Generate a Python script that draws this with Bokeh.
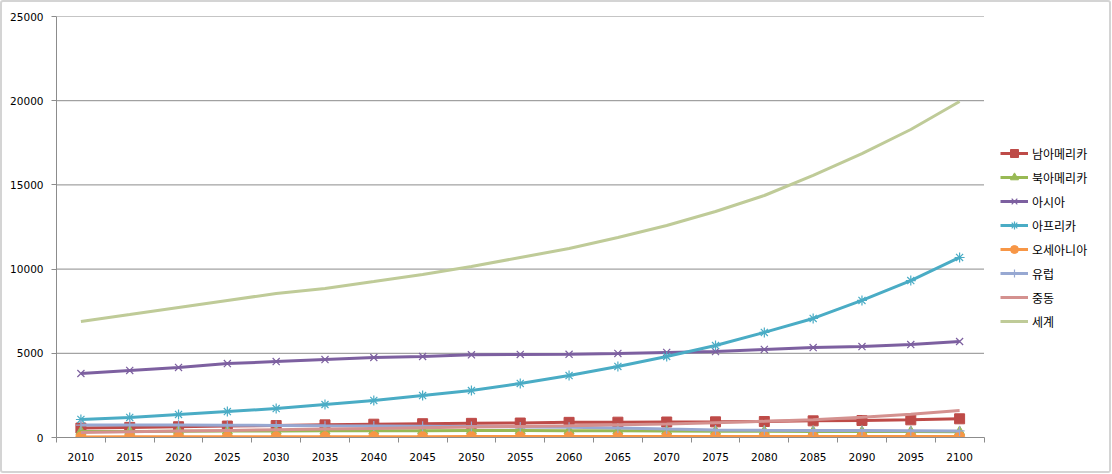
from bokeh.plotting import figure
from bokeh.models import FixedTicker, Range1d, Legend, LegendItem
from bokeh.embed import file_html
from bokeh.resources import INLINE

years = [2010, 2015, 2020, 2025, 2030, 2035, 2040, 2045, 2050, 2055,
         2060, 2065, 2070, 2075, 2080, 2085, 2090, 2095, 2100]

south_america = [560, 600, 640, 680, 710, 750, 790, 820, 840, 860,
                 900, 910, 920, 930, 950, 990, 1010, 1050, 1110]
north_america = [350, 360, 370, 380, 390, 395, 400, 405, 410, 410,
                 405, 395, 385, 375, 370, 360, 355, 350, 345]
asia = [3800, 3980, 4160, 4390, 4510, 4630, 4750, 4810, 4910, 4930,
        4940, 4990, 5050, 5100, 5230, 5340, 5400, 5520, 5700]
africa = [1070, 1190, 1370, 1540, 1720, 1960, 2200, 2490, 2790, 3210,
          3680, 4220, 4810, 5460, 6240, 7070, 8140, 9320, 10690]
oceania = [37, 39, 41, 43, 45, 47, 49, 50, 52, 53,
           54, 55, 56, 57, 58, 58, 59, 60, 60]
europe = [740, 740, 735, 730, 720, 700, 690, 670, 650, 630,
          610, 560, 500, 450, 430, 420, 410, 400, 390]
middle_east = [300, 340, 380, 420, 460, 500, 540, 580, 620, 660,
               700, 750, 800, 880, 960, 1060, 1200, 1380, 1600]
world = [6890, 7300, 7720, 8140, 8550, 8850, 9260, 9680, 10150, 10690,
         11220, 11880, 12590, 13420, 14370, 15560, 16860, 18290, 19950]

names = ["남아메리카", "북아메리카", "아시아", "아프리카", "오세아니아", "유럽", "중동", "세계"]
series = [south_america, north_america, asia, africa, oceania, europe, middle_east, world]
line_colors = ["#BE4B48", "#98B954", "#7D60A0", "#4AACC5", "#F79646", "#97A8D2", "#D4918F", "#BFCB98"]
markers = ["square", "triangle", "x", "asterisk", "circle", "cross", None, None]
y_ticks = [0, 5000, 10000, 15000, 20000, 25000]

# layout (pixels)
B = 2                      # css border width
W, H = 1111, 473
inner_w, inner_h = W - 2 * B, H - 2 * B
frame_left, frame_top = 56 - B, 16 - B
bottom_border = 38
data_px = 924              # plot-area width in pixels
x0 = years[0] - 2.5
x1 = years[-1] + 2.5
px_per = data_px / (x1 - x0)
x_end = x0 + (inner_w - frame_left) / px_per

p = figure(width=W, height=H, output_backend="svg", toolbar_location=None,
           x_range=Range1d(x0, x_end), y_range=Range1d(0, 25000),
           min_border_left=frame_left, min_border_right=0, min_border_top=frame_top,
           min_border_bottom=bottom_border)
p.styles = {"border": f"{B}px solid #D4D4D4", "box-sizing": "border-box", "border-radius": "3px"}
p.outline_line_color = None
p.xgrid.grid_line_color = None
p.ygrid.grid_line_color = None

# horizontal gridlines limited to the plot area
p.segment(x0=[x0] * (len(y_ticks) - 1), x1=[x1] * (len(y_ticks) - 1),
          y0=y_ticks[1:], y1=y_ticks[1:], line_color="#8C8C8C", line_width=1)

font = "DejaVu Sans"
p.xaxis.bounds = (x0, x1)
p.xaxis.ticker = FixedTicker(ticks=years, minor_ticks=[x0 + 5 * i for i in range(len(years) + 1)])
p.xaxis.major_tick_line_color = None
p.xaxis.major_tick_out = 0
p.xaxis.major_tick_in = 0
p.xaxis.minor_tick_out = 5
p.xaxis.minor_tick_in = 0
p.xaxis.minor_tick_line_color = "#8C8C8C"
p.xaxis.axis_line_color = "#8C8C8C"
p.xaxis.major_label_standoff = 10
p.xaxis.major_label_text_font = font
p.xaxis.major_label_text_font_size = "10.5px"
p.xaxis.major_label_text_color = "#000000"

p.yaxis.ticker = FixedTicker(ticks=y_ticks, minor_ticks=[])
p.yaxis.major_tick_out = 5
p.yaxis.major_tick_in = 0
p.yaxis.major_tick_line_color = "#8C8C8C"
p.yaxis.axis_line_color = "#8C8C8C"
p.yaxis.major_label_standoff = 8
p.yaxis.major_label_text_font = font
p.yaxis.major_label_text_font_size = "10.5px"
p.yaxis.major_label_text_color = "#000000"

items = []
for name, vals, col, mk in zip(names, series, line_colors, markers):
    rs = [p.line(years, vals, line_color=col, line_width=3)]
    if mk is not None:
        if mk in ("x", "asterisk", "cross"):
            rs.append(p.scatter(years, vals, marker=mk, size=10, line_color=col, line_width=1.2,
                                fill_color=None))
        else:
            rs.append(p.scatter(years, vals, marker=mk, size=10, line_color=col, fill_color=col))
    items.append(LegendItem(label=name, renderers=rs))

legend = Legend(items=items, location=(944, 106), padding=0, margin=0,
                border_line_color=None, background_fill_alpha=0,
                glyph_width=28, glyph_height=20, label_height=20, spacing=4,
                label_standoff=4, label_text_font="Noto Sans CJK KR",
                label_text_font_size="12px", label_text_color="#000000")
p.add_layout(legend, "center")

open("out.html", "w").write(file_html(p, INLINE))
